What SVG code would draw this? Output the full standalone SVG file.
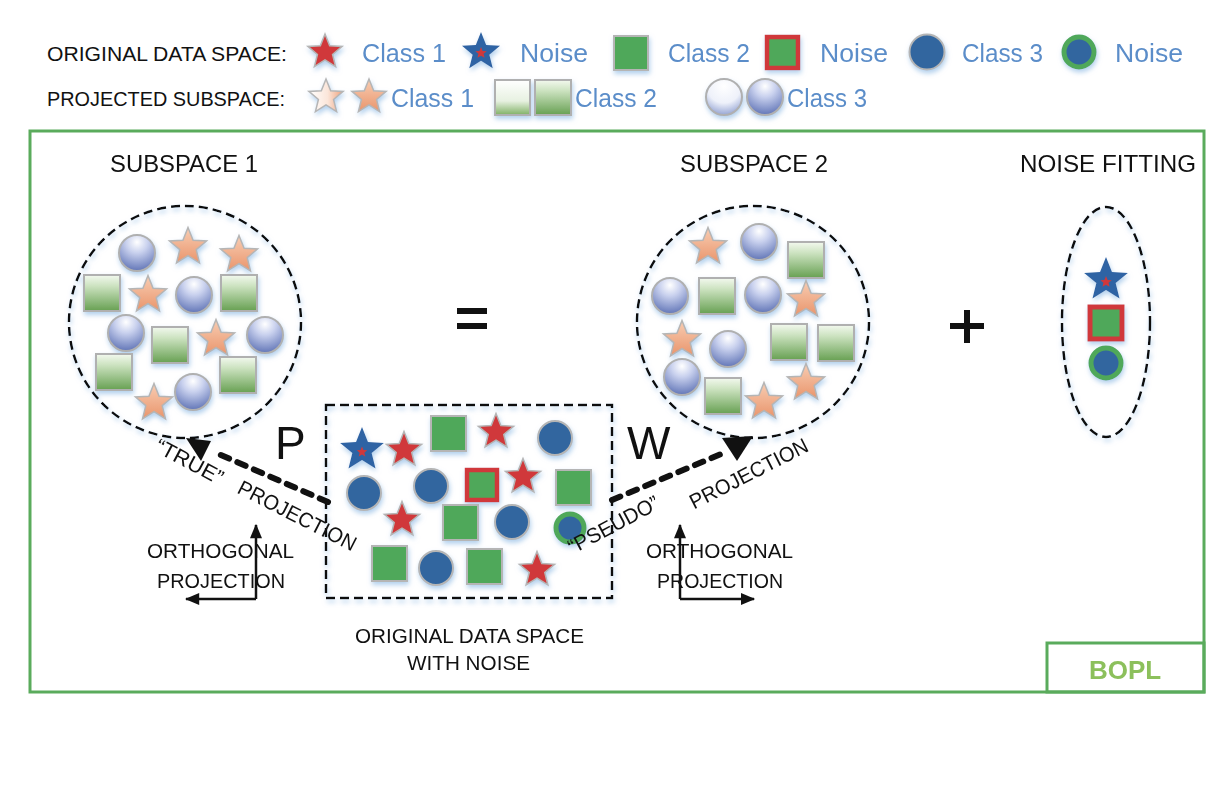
<svg xmlns="http://www.w3.org/2000/svg" xmlns:xlink="http://www.w3.org/1999/xlink" width="1210" height="806" viewBox="0 0 1210 806">
<style>
text{font-family:"Liberation Sans",Arial,sans-serif}
.k{fill:#111;font-size:21px}
.h{fill:#111;font-size:24px}
.b{fill:#5b8dc9;font-size:26px}
.rs{fill:#d0393a;stroke:#b5b5b5;stroke-width:1.5}
.bs{fill:#2f64a4}
.ps{fill:url(#starG);stroke:#b5b5b5;stroke-width:1.5}
.sq{fill:#4fa85a;stroke:#b5b5b5;stroke-width:2}
.nsq{fill:#4fa85a;stroke:#d0393a;stroke-width:4.5}
.ci{fill:#32669f;stroke:#b5b5b5;stroke-width:2}
.ring{fill:#32669f;stroke:#4fa85a;stroke-width:5}
.sph{fill:url(#sphG);stroke:#b0b0b0;stroke-width:2}
.psq{fill:url(#sqG);stroke:#b0b0b0;stroke-width:2}
.dash{fill:none;stroke:#111;stroke-width:2.5;stroke-dasharray:9 5}
.conn{fill:none;stroke:#111;stroke-width:6;stroke-dasharray:9 9;stroke-linecap:round}
.ax{fill:none;stroke:#111;stroke-width:2.5}
</style>
<defs>
<path id="st" vector-effect="non-scaling-stroke" d="M0,-10 L2.6,-3.5 L9.51,-3.09 L4.2,1.35 L5.88,8.09 L0,4.4 L-5.88,8.09 L-4.2,1.35 L-9.51,-3.09 L-2.6,-3.5 Z"/>
<linearGradient id="starG" x1="0" y1="0" x2="0" y2="1"><stop offset="0" stop-color="#f8cdb3"/><stop offset="1" stop-color="#e9956c"/></linearGradient>
<linearGradient id="starL" x1="0" y1="0" x2="1" y2="0"><stop offset="0" stop-color="#ffffff"/><stop offset="0.55" stop-color="#fbe6da"/><stop offset="1" stop-color="#eea07a"/></linearGradient>
<radialGradient id="sphG" cx="0.5" cy="0.2" r="0.85"><stop offset="0" stop-color="#ffffff"/><stop offset="0.35" stop-color="#c9d1ee"/><stop offset="1" stop-color="#586db2"/></radialGradient>
<radialGradient id="sphL" cx="0.5" cy="0.2" r="0.85"><stop offset="0" stop-color="#ffffff"/><stop offset="0.55" stop-color="#eef1fa"/><stop offset="1" stop-color="#8a9bcf"/></radialGradient>
<linearGradient id="sqG" x1="0" y1="0" x2="0" y2="1"><stop offset="0" stop-color="#f3f9ef"/><stop offset="0.3" stop-color="#cde3c1"/><stop offset="1" stop-color="#67a052"/></linearGradient>
<linearGradient id="sqL" x1="0" y1="0" x2="0" y2="1"><stop offset="0" stop-color="#ffffff"/><stop offset="0.6" stop-color="#e7f1e1"/><stop offset="1" stop-color="#7fb064"/></linearGradient>
<filter id="gl" x="-30%" y="-30%" width="160%" height="160%">
<feGaussianBlur in="SourceAlpha" stdDeviation="2.5"/>
<feOffset dx="1" dy="3" result="b"/>
<feFlood flood-color="#a5c8ea" flood-opacity="0.85"/>
<feComposite in2="b" operator="in"/>
<feMerge><feMergeNode/><feMergeNode in="SourceGraphic"/></feMerge>
</filter>
<marker id="ah" viewBox="0 0 12 10" refX="11" refY="5" markerWidth="15" markerHeight="12" markerUnits="userSpaceOnUse" orient="auto"><path d="M0,0 L12,5 L0,10 Z" fill="#111"/></marker>
</defs>
<rect width="1210" height="806" fill="#fff"/>

<g id="legend">
<text class="k" x="47" y="61" textLength="240" lengthAdjust="spacingAndGlyphs">ORIGINAL DATA SPACE:</text>
<text class="k" x="47" y="106" textLength="238" lengthAdjust="spacingAndGlyphs">PROJECTED SUBSPACE:</text>
<g filter="url(#gl)">
<use href="#st" class="rs" transform="translate(325,52) scale(1.8)"/>
<use href="#st" class="bs" transform="translate(481,52) scale(2.0)"/>
<use href="#st" fill="#d0393a" transform="translate(481,53) scale(0.6)"/>
<rect class="sq" x="614" y="36" width="34" height="34"/>
<rect class="nsq" x="767" y="37" width="31" height="31"/>
<circle class="ci" cx="927" cy="52" r="17.5"/>
<circle class="ring" cx="1079" cy="52" r="15"/>
<use href="#st" fill="url(#starL)" stroke="#b5b5b5" stroke-width="1.5" transform="translate(326,97) scale(1.8)"/>
<use href="#st" class="ps" transform="translate(369,97) scale(1.8)"/>
<rect x="495" y="80" width="35" height="35" fill="url(#sqL)" stroke="#b0b0b0" stroke-width="2"/>
<rect class="psq" x="535" y="80" width="36" height="35"/>
<circle cx="724" cy="97" r="18" fill="url(#sphL)" stroke="#b0b0b0" stroke-width="2"/>
<circle class="sph" cx="765" cy="97" r="18"/>
</g>
<text class="b" x="362" y="62" textLength="84" lengthAdjust="spacingAndGlyphs">Class 1</text>
<text class="b" x="520" y="62" textLength="68" lengthAdjust="spacingAndGlyphs">Noise</text>
<text class="b" x="668" y="62" textLength="82" lengthAdjust="spacingAndGlyphs">Class 2</text>
<text class="b" x="820" y="62" textLength="68" lengthAdjust="spacingAndGlyphs">Noise</text>
<text class="b" x="962" y="62" textLength="81" lengthAdjust="spacingAndGlyphs">Class 3</text>
<text class="b" x="1115" y="62" textLength="68" lengthAdjust="spacingAndGlyphs">Noise</text>
<text class="b" x="391" y="107" textLength="83" lengthAdjust="spacingAndGlyphs">Class 1</text>
<text class="b" x="575" y="107" textLength="82" lengthAdjust="spacingAndGlyphs">Class 2</text>
<text class="b" x="787" y="107" textLength="80" lengthAdjust="spacingAndGlyphs">Class 3</text>
</g>

<g id="frame">
<rect x="30" y="131" width="1174" height="561" fill="none" stroke="#5aab5c" stroke-width="3"/>
</g>

<g id="subspace1">
<text class="h" x="110" y="172" textLength="148" lengthAdjust="spacingAndGlyphs">SUBSPACE 1</text>
<g filter="url(#gl)">
<circle class="dash" cx="185" cy="322" r="116"/>
<circle class="sph" cx="137" cy="253" r="18"/>
<circle class="sph" cx="194" cy="295" r="18"/>
<circle class="sph" cx="126" cy="333" r="18"/>
<circle class="sph" cx="265" cy="335" r="18"/>
<circle class="sph" cx="193" cy="392" r="18"/>
<use href="#st" class="ps" transform="translate(188,247) scale(1.95)"/>
<use href="#st" class="ps" transform="translate(239,255) scale(1.95)"/>
<use href="#st" class="ps" transform="translate(148,295) scale(1.95)"/>
<use href="#st" class="ps" transform="translate(216,339) scale(1.95)"/>
<use href="#st" class="ps" transform="translate(154,403) scale(1.95)"/>
<rect class="psq" x="84" y="275" width="36" height="36"/>
<rect class="psq" x="221" y="275" width="36" height="36"/>
<rect class="psq" x="152" y="327" width="36" height="36"/>
<rect class="psq" x="96" y="354" width="36" height="36"/>
<rect class="psq" x="220" y="357" width="36" height="36"/>
</g>
</g>

<g id="subspace2">
<text class="h" x="680" y="172" textLength="148" lengthAdjust="spacingAndGlyphs">SUBSPACE 2</text>
<g filter="url(#gl)">
<circle class="dash" cx="753" cy="322" r="116"/>
<circle class="sph" cx="759" cy="242" r="18"/>
<circle class="sph" cx="670" cy="296" r="18"/>
<circle class="sph" cx="763" cy="295" r="18"/>
<circle class="sph" cx="728" cy="349" r="18"/>
<circle class="sph" cx="682" cy="377" r="18"/>
<use href="#st" class="ps" transform="translate(708,247) scale(1.95)"/>
<use href="#st" class="ps" transform="translate(806,300) scale(1.95)"/>
<use href="#st" class="ps" transform="translate(682,340) scale(1.95)"/>
<use href="#st" class="ps" transform="translate(806,383) scale(1.95)"/>
<use href="#st" class="ps" transform="translate(764,402) scale(1.95)"/>
<rect class="psq" x="788" y="242" width="36" height="36"/>
<rect class="psq" x="699" y="278" width="36" height="36"/>
<rect class="psq" x="771" y="324" width="36" height="36"/>
<rect class="psq" x="818" y="325" width="36" height="36"/>
<rect class="psq" x="705" y="378" width="36" height="36"/>
</g>
</g>

<g id="equals">
<rect x="457" y="308" width="30" height="6" fill="#111"/>
<rect x="457" y="323" width="30" height="6" fill="#111"/>
</g>
<g id="plus">
<rect x="950" y="323" width="34" height="6" fill="#111"/>
<rect x="964" y="310" width="6" height="33" fill="#111"/>
</g>

<g id="noise-fitting">
<text class="h" x="1020" y="172" textLength="176" lengthAdjust="spacingAndGlyphs">NOISE FITTING</text>
<g filter="url(#gl)">
<ellipse class="dash" cx="1106" cy="322" rx="44" ry="115"/>
<use href="#st" class="bs" transform="translate(1106,280) scale(2.3)"/>
<use href="#st" fill="#d0393a" transform="translate(1106,282) scale(0.6)"/>
<rect class="nsq" x="1090" y="307" width="32" height="32" style="stroke-width:5"/>
<circle class="ring" cx="1106" cy="363" r="15"/>
</g>
</g>

<g id="data-space">
<g filter="url(#gl)">
<rect class="dash" x="326" y="405" width="286" height="193"/>
<use href="#st" class="bs" transform="translate(362,450) scale(2.3)"/>
<use href="#st" fill="#d0393a" transform="translate(362,452) scale(0.55)"/>
<use href="#st" class="rs" transform="translate(404,450) scale(1.85)"/>
<use href="#st" class="rs" transform="translate(496,432) scale(1.85)"/>
<use href="#st" class="rs" transform="translate(523,477) scale(1.85)"/>
<use href="#st" class="rs" transform="translate(402,520) scale(1.85)"/>
<use href="#st" class="rs" transform="translate(537,570) scale(1.85)"/>
<rect class="sq" x="431" y="416" width="35" height="35"/>
<rect class="sq" x="556" y="470" width="35" height="35"/>
<rect class="sq" x="443" y="505" width="35" height="35"/>
<rect class="sq" x="372" y="546" width="35" height="35"/>
<rect class="sq" x="467" y="549" width="35" height="35"/>
<rect class="nsq" x="467" y="470" width="30" height="30"/>
<circle class="ci" cx="555" cy="438" r="17"/>
<circle class="ci" cx="364" cy="493" r="17"/>
<circle class="ci" cx="431" cy="486" r="17"/>
<circle class="ci" cx="512" cy="522" r="17"/>
<circle class="ci" cx="436" cy="568" r="17"/>
<circle class="ring" cx="570" cy="528" r="14"/>
</g>
<text class="k" x="355" y="643" textLength="229" lengthAdjust="spacingAndGlyphs">ORIGINAL DATA SPACE</text>
<text class="k" x="407" y="670" textLength="123" lengthAdjust="spacingAndGlyphs">WITH NOISE</text>
</g>

<g id="connectors">
<path class="conn" d="M328,502 L214,452"/>
<polygon points="186,438 211,441 201,461" fill="#111"/>
<path class="conn" d="M612,500 L726,452"/>
<polygon points="722,438 753,436 737,461" fill="#111"/>
</g>

<g id="label-P"><text x="275" y="459" style="font-size:46px" fill="#111">P</text></g>
<g id="label-W"><text x="627" y="459" style="font-size:46px" fill="#111">W</text></g>

<g id="true-projection">
<text class="k" text-anchor="middle" transform="translate(186,468) rotate(28)" textLength="74" lengthAdjust="spacingAndGlyphs">“TRUE”</text>
<text class="k" text-anchor="middle" transform="translate(294,522) rotate(27)" textLength="130" lengthAdjust="spacingAndGlyphs">PROJECTION</text>
</g>
<g id="pseudo-projection">
<text class="k" text-anchor="middle" transform="translate(617,531) rotate(-28)" textLength="100" lengthAdjust="spacingAndGlyphs">“PSEUDO”</text>
<text class="k" text-anchor="middle" transform="translate(752,480) rotate(-27)" textLength="130" lengthAdjust="spacingAndGlyphs">PROJECTION</text>
</g>

<g id="orth-left">
<text class="k" x="147" y="558" textLength="147" lengthAdjust="spacingAndGlyphs">ORTHOGONAL</text>
<text class="k" x="157" y="588" textLength="128" lengthAdjust="spacingAndGlyphs">PROJECTION</text>
<path class="ax" d="M256,599 L256,525" marker-end="url(#ah)"/>
<path class="ax" d="M256,599 L186,599" marker-end="url(#ah)"/>
</g>
<g id="orth-right">
<text class="k" x="646" y="558" textLength="147" lengthAdjust="spacingAndGlyphs">ORTHOGONAL</text>
<text class="k" x="657" y="588" textLength="126" lengthAdjust="spacingAndGlyphs">PROJECTION</text>
<path class="ax" d="M680,599 L680,525" marker-end="url(#ah)"/>
<path class="ax" d="M680,599 L754,599" marker-end="url(#ah)"/>
</g>

<g id="bopl">
<rect x="1047" y="643" width="157" height="49" fill="none" stroke="#5aab5c" stroke-width="3"/>
<text x="1125" y="679" text-anchor="middle" style="font-size:26px;font-weight:bold" fill="#8cc05c">BOPL</text>
</g>
</svg>
